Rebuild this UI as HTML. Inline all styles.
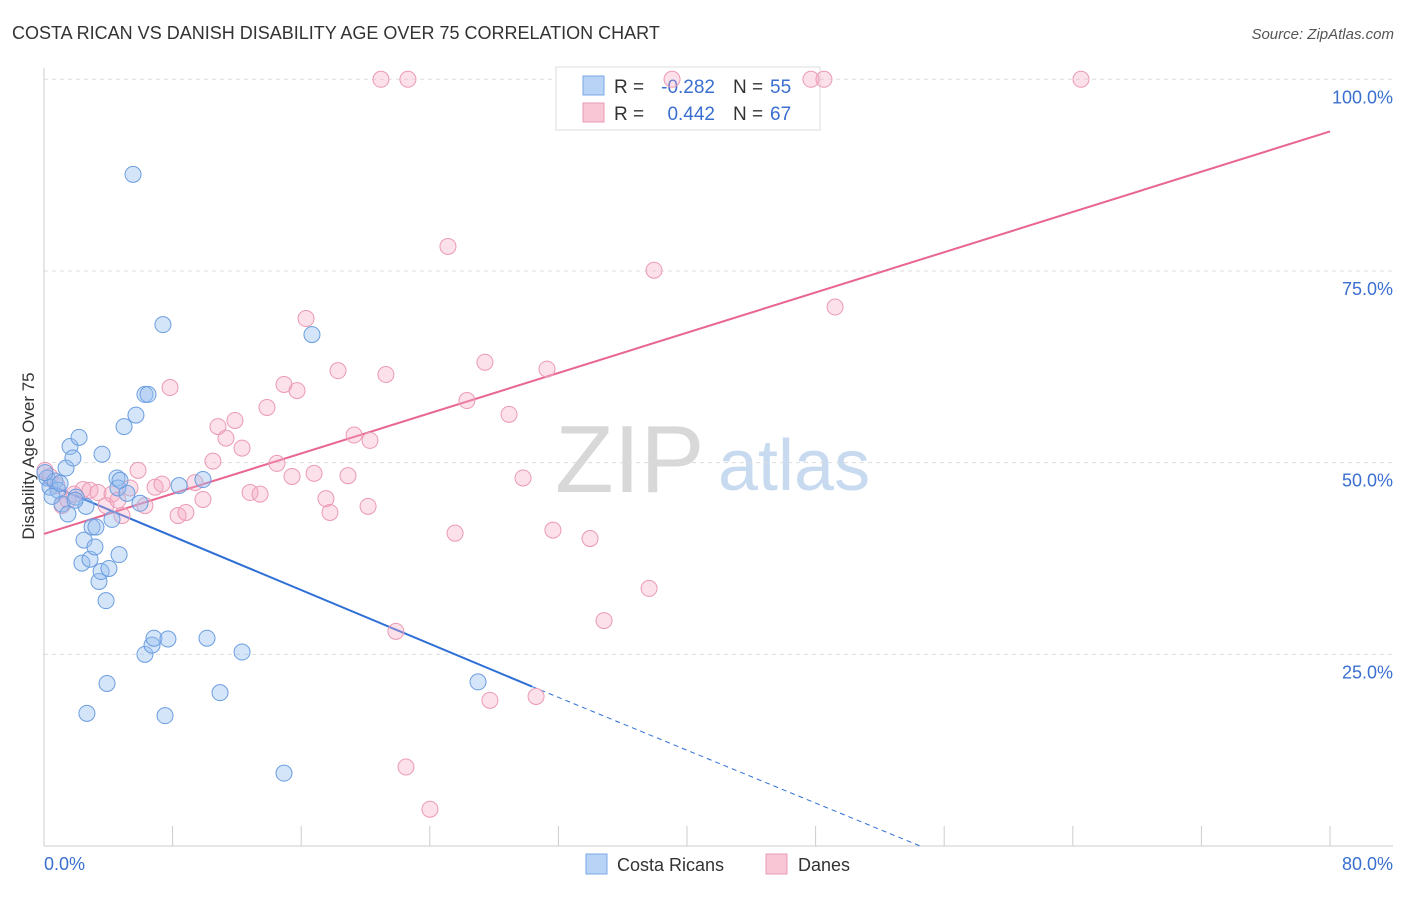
<!DOCTYPE html>
<html><head><meta charset="utf-8"><style>
body{margin:0;background:#fff;font-family:"Liberation Sans",sans-serif;}
svg text{font-family:"Liberation Sans",sans-serif;}
</style></head><body>
<svg id="chart" width="1406" height="892" xmlns="http://www.w3.org/2000/svg">
<text x="12" y="39" font-size="18" fill="#333">COSTA RICAN VS DANISH DISABILITY AGE OVER 75 CORRELATION CHART</text>
<text x="1394" y="39" font-size="15" fill="#555" text-anchor="end" font-style="italic">Source: ZipAtlas.com</text>
<g>
<text x="555" y="492" font-size="96" fill="#d8d8d8" font-family="Liberation Serif,serif">ZIP</text>
<text x="718" y="490" font-size="72" fill="#c8daf0">atlas</text>
</g>
<g id="grid"></g>
<g id="axes"></g>
<g>
<rect x="556" y="67" width="264" height="63" fill="#fff" stroke="#ddd"/>
<rect x="583" y="76" width="21" height="19" fill="#b8d3f5" stroke="#7aa9e6"/>
<rect x="583" y="103" width="21" height="19" fill="#f9c6d5" stroke="#eb9ab3"/>
<text x="614" y="93" font-size="19" fill="#333">R =</text>
<text x="715" y="93" font-size="19" fill="#3a6fd0" text-anchor="end">-0.282</text>
<text x="733" y="93" font-size="19" fill="#333">N =</text>
<text x="770" y="93" font-size="19" fill="#3a6fd0">55</text>
<text x="614" y="120" font-size="19" fill="#333">R =</text>
<text x="715" y="120" font-size="19" fill="#3a6fd0" text-anchor="end">0.442</text>
<text x="733" y="120" font-size="19" fill="#333">N =</text>
<text x="770" y="120" font-size="19" fill="#3a6fd0">67</text>
</g>
<g id="lines"></g>
<g id="points"></g>
<text transform="translate(34,456) rotate(-90)" font-size="17" fill="#333" text-anchor="middle">Disability Age Over 75</text>
<g>
<rect x="586" y="854" width="21" height="20" fill="#b8d3f5" stroke="#7aa9e6"/>
<text x="617" y="871" font-size="18" fill="#333">Costa Ricans</text>
<rect x="766" y="854" width="21" height="20" fill="#f9c6d5" stroke="#eb9ab3"/>
<text x="798" y="871" font-size="18" fill="#333">Danes</text>
</g>
</svg>
<script>
const blueX=[0.19,0.37,0.68,0.87,1.12,1.37,1.49,1.62,1.80,1.99,2.18,2.49,2.36,2.61,2.67,2.86,2.99,3.17,3.23,3.42,3.55,3.61,3.86,3.92,4.04,4.23,4.54,4.60,4.67,4.98,5.16,5.54,5.72,5.97,6.28,6.28,6.47,6.72,6.84,7.40,7.53,7.71,8.40,9.89,10.14,10.95,12.32,14.93,16.67,27.0,0.06,0.5,1.0,1.93,4.73];
const blueY=[48.0,46.8,47.6,46.4,44.6,49.3,43.3,52.1,50.6,45.5,53.3,39.9,36.9,44.3,17.3,37.4,41.6,39.0,41.6,34.5,35.8,51.1,32.0,21.2,36.2,42.6,48.0,46.7,38.0,54.7,46.0,87.6,56.2,44.7,58.9,25.0,58.9,26.2,27.1,68.0,17.0,27.0,47.0,47.8,27.1,20.0,25.3,9.5,66.7,21.4,48.7,45.6,47.3,45.1,47.7];
const pinkX=[0.06,0.37,0.81,1.12,1.49,1.87,2.43,2.86,3.36,3.86,4.23,4.60,4.85,5.35,5.85,6.28,6.91,7.34,7.84,8.34,8.83,9.39,9.89,10.51,10.82,11.32,11.88,12.32,12.82,13.44,13.87,14.49,14.93,15.43,15.74,16.30,16.80,17.54,17.79,18.29,18.91,19.29,20.16,20.28,20.96,21.27,21.89,22.52,22.64,24.01,25.13,25.57,26.31,27.43,27.74,28.93,29.80,30.61,31.29,31.66,33.97,34.84,37.64,37.95,39.07,47.71,48.52,49.21,64.51];
const pinkY=[49.0,48.2,47.0,44.4,45.1,45.9,46.5,46.4,46.1,44.4,45.9,45.1,43.1,46.7,49.0,44.4,46.8,47.2,59.8,43.1,43.5,47.4,45.2,50.2,54.7,53.2,55.5,51.9,46.1,45.9,57.2,49.9,60.2,48.2,59.4,68.8,48.6,45.3,43.5,62.0,48.3,53.6,44.3,52.9,100,61.5,28.0,10.3,100,4.8,78.2,40.8,58.1,63.1,19.0,56.3,48.0,19.5,62.2,41.2,40.1,29.4,33.6,75.1,100,100,100,70.3,100];
const blueLine=[[0,47.4],[30.36,20.8]];
const blueDash=[[30.36,20.8],[54.5,0]];
const pinkLine=[[0,40.7],[80,93.2]];
const yTicks=[25,50,75,100];
const xTickVals=[0,8,16,24,32,40,48,56,64,72,80];
const NS="http://www.w3.org/2000/svg";
const X=v=>44+v*16.075, Y=v=>846-v*7.667;
function mk(t,a,p){const e=document.createElementNS(NS,t);for(const k in a)e.setAttribute(k,a[k]);p.appendChild(e);return e;}
const grid=document.getElementById('grid'),axes=document.getElementById('axes');
yTicks.forEach(v=>{
 const l=mk('line',{x1:44,x2:1393,y1:Y(v),y2:Y(v),stroke:'#ddd','stroke-dasharray':'4,4'},grid);
 
 
 const t=mk('text',{x:1393,y:Y(v)+24,'font-size':18,fill:'#3a6fd0','text-anchor':'end'},axes);
 t.textContent=v.toFixed(1)+'%';
 
 
});
mk('line',{x1:44,x2:44,y1:68,y2:846,stroke:'#ccc'},axes);
mk('line',{x1:44,x2:1393,y1:846,y2:846,stroke:'#ccc'},axes);
xTickVals.forEach(v=>{
 const l=mk('line',{x1:X(v),x2:X(v),y1:826,y2:846,stroke:'#ccc'},axes);
 
 
});
const t0=mk('text',{x:44,y:870,'font-size':18,fill:'#3a6fd0'},axes);t0.textContent='0.0%';


const t1=mk('text',{x:1393,y:870,'font-size':18,fill:'#3a6fd0','text-anchor':'end'},axes);t1.textContent='80.0%';


const pts=document.getElementById('points'),lines=document.getElementById('lines');
pinkX.forEach((x,i)=>{const c=mk('circle',{cx:X(x),cy:Y(pinkY[i]),r:8,fill:'rgba(246,170,195,0.35)',stroke:'#eb9ab3','stroke-width':1},pts);
 
 });
blueX.forEach((x,i)=>{const c=mk('circle',{cx:X(x),cy:Y(blueY[i]),r:8,fill:'rgba(150,190,240,0.4)',stroke:'#6a9de0','stroke-width':1},pts);
 
 });
const pl=mk('line',{x1:X(pinkLine[0][0]),y1:Y(pinkLine[0][1]),x2:X(pinkLine[1][0]),y2:Y(pinkLine[1][1]),stroke:'#e8668f','stroke-width':2},lines);


const bl=mk('line',{x1:X(blueLine[0][0]),y1:Y(blueLine[0][1]),x2:X(blueLine[1][0]),y2:Y(blueLine[1][1]),stroke:'#2f6fd6','stroke-width':2},lines);


const bd=mk('line',{x1:X(blueDash[0][0]),y1:Y(blueDash[0][1]),x2:X(blueDash[1][0]),y2:Y(blueDash[1][1]),stroke:'#2f6fd6','stroke-width':1,'stroke-dasharray':'5,4'},lines);


</script>
</body></html>
